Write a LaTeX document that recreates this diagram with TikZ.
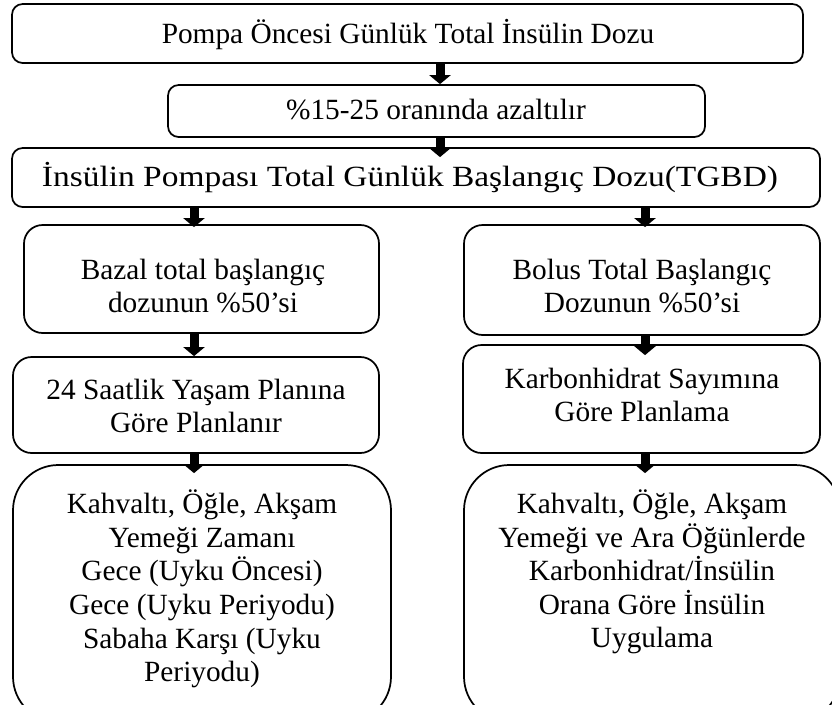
\documentclass[tikz,border=0pt]{standalone}
\usepackage{fontspec}
\usepackage{graphicx}
\setmainfont{Liberation Serif}
\usetikzlibrary{arrows.meta,fit}
\begin{document}
\begin{tikzpicture}[x=0.75pt,y=-0.75pt,
  box/.style={draw=black, line width=1.3pt, inner sep=0pt, rounded corners=#1},
  box/.default=8pt,
  txt/.style={align=center, font=\fontsize{22}{25.2}\selectfont, inner sep=0pt},
  arr/.style={draw=black, line width=6.75pt, -{Triangle[width=15.75pt,length=6.75pt]}}]
\useasboundingbox (0,0) rectangle (832,704);
\clip (0,0) rectangle (832,704);
% column coordinates
\coordinate (xm) at (440,0);
\coordinate (colL) at (194,0);
\coordinate (colR) at (645,0);
% boxes
\node[box=8pt,  fit={(12,4) (803,63)}]   (b1) {};
\node[box=8pt,  fit={(168,85) (705,137)}] (b2) {};
\node[box=8pt,  fit={(12,148) (820,207)}] (b3) {};
\node[box=14pt, fit={(24,225) (379,333)}] (b4l) {};
\node[box=14pt, fit={(464,225) (820,335)}] (b4r) {};
\node[box=14pt, fit={(13,357) (379,453)}] (b5l) {};
\node[box=14pt, fit={(463,345) (820,453)}] (b5r) {};
\node[box=34pt, fit={(13,465) (391,722)}] (b6l) {};
\node[box=34pt, fit={(464,465) (840,722)}] (b6r) {};
% texts
\node[txt] (t1) at (408,35) {Pompa Öncesi Günlük Total İnsülin Dozu};
\node[txt] (t2) at (436,110) {\%15-25 oranında azaltılır};
\node[txt] (t3) at (410,178) {\scalebox{1.14}[1]{İnsülin Pompası Total Günlük Başlangıç Dozu(TGBD)}};
\node[txt] (t4l) at (203,286) {Bazal total başlangıç\\dozunun \%50’si};
\node[txt] (t4r) at (642,286) {Bolus Total Başlangıç\\Dozunun \%50’si};
\node[txt] (t5l) at (196,406) {24 Saatlik Yaşam Planına\\Göre Planlanır};
\node[txt] (t5r) at (642,395) {Karbonhidrat Sayımına\\Göre Planlama};
\node[txt] (t6l) at (202,589) {Kahvaltı, Öğle, Akşam\\Yemeği Zamanı\\Gece (Uyku Öncesi)\\Gece (Uyku Periyodu)\\Sabaha Karşı (Uyku\\Periyodu)};
\node[txt] (t6r) at (652,572) {Kahvaltı, Öğle, Akşam\\Yemeği ve Ara Öğünlerde\\Karbonhidrat/İnsülin\\Orana Göre İnsülin\\Uygulama};
% arrows (fixed length, tips may overlap the next box's top edge)
\draw[arr] (b1.south -| xm) -- (b2.north -| xm);
\draw[arr] (b2.south -| xm) -- ([yshift=-7.5pt]b3.north -| xm);
\draw[arr] (b3.south -| colL) -- ([yshift=-2.25pt]b4l.north -| colL);
\draw[arr] (b3.south -| colR) -- ([yshift=-2.25pt]b4r.north -| colR);
\draw[arr] (b4l.south -| colL) -- (b5l.north -| colL);
\draw[arr] (b4r.south -| colR) -- ([yshift=-8.25pt]b5r.north -| colR);
\draw[arr] (b5l.south -| colL) -- ([yshift=-6.75pt]b6l.north -| colL);
\draw[arr] (b5r.south -| colR) -- ([yshift=-6.75pt]b6r.north -| colR);
\end{tikzpicture}
\end{document}
